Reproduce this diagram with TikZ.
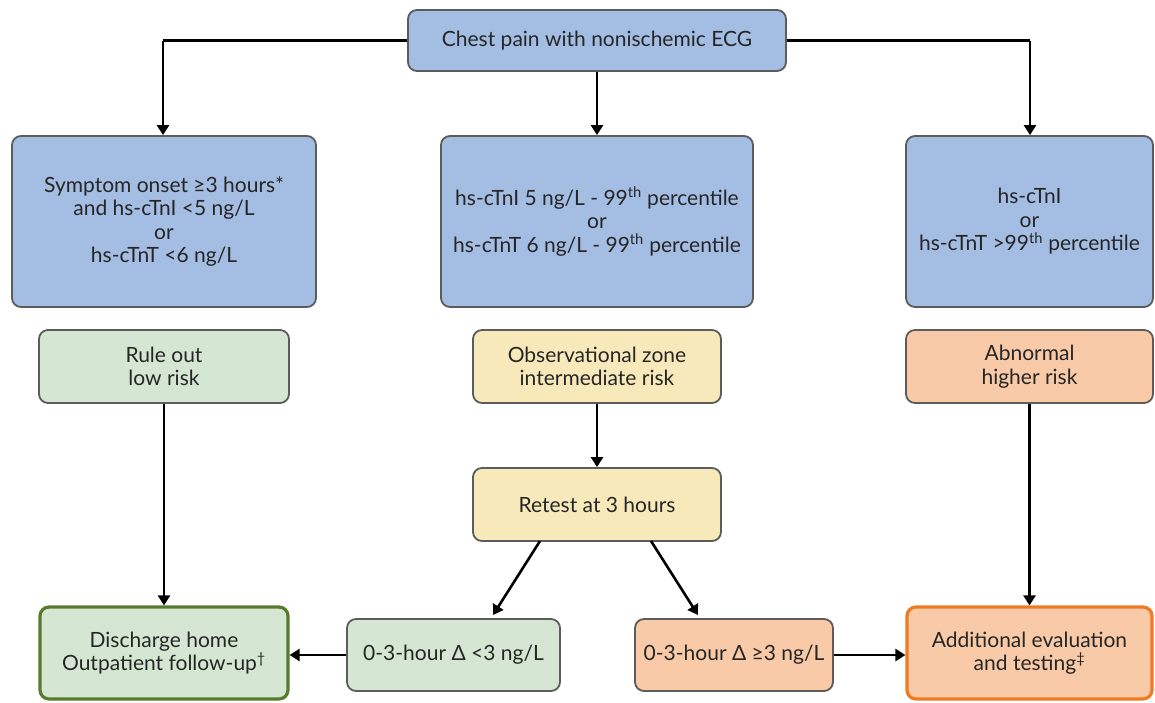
\documentclass[tikz,border=0pt]{standalone}
\usepackage{fontspec}
\setmainfont{Lato}
\usetikzlibrary{arrows.meta}
\definecolor{bluefill}{HTML}{A4BDE3}
\definecolor{greenfill}{HTML}{D5E7D3}
\definecolor{yellowfill}{HTML}{F8E9BA}
\definecolor{orangefill}{HTML}{F8CAA7}
\definecolor{edgegray}{HTML}{5C5C5C}
\definecolor{darkgreen}{HTML}{587A2D}
\definecolor{brightorange}{HTML}{EE7A22}
\definecolor{inkcol}{HTML}{262626}
\tikzset{
  box/.style={draw=edgegray, line width=1.8pt, rounded corners=9pt, align=center,
    inner sep=2pt, text=inkcol, font=\fontsize{21}{23.5}\selectfont},
  bluebox/.style={box, fill=bluefill},
  greenbox/.style={box, fill=greenfill},
  yellowbox/.style={box, fill=yellowfill},
  orangebox/.style={box, fill=orangefill},
  arr/.style={draw=black, line width=2.6pt, -{Triangle[length=10pt,width=12pt]}},
  conn/.style={draw=black, line width=2.6pt}
}
\begin{document}
\begin{tikzpicture}[x=1pt, y=-1pt]
\useasboundingbox (0,0) rectangle (1155,702);
\fill[white] (0,0) rectangle (1155,702);

% top row
\node[bluebox, minimum width=378pt, minimum height=61pt] (top) at (597,40.5) {Chest pain with nonischemic ECG};

% second row: troponin ranges
\node[bluebox, minimum width=304pt, minimum height=171pt] (lo) at (164,221.5)
  {Symptom onset ≥3 hours*\\and hs-cTnI <5 ng/L\\or\\hs-cTnT <6 ng/L};
\node[bluebox, minimum width=312pt, minimum height=171pt] (mid) at (597,221.5)
  {hs-cTnI 5 ng/L - 99\textsuperscript{th} percentile\\or\\hs-cTnT 6 ng/L - 99\textsuperscript{th} percentile};
\node[bluebox, minimum width=247pt, minimum height=171pt] (hi) at (1029.5,221.5)
  {hs-cTnI\\or\\hs-cTnT >99\textsuperscript{th} percentile};

% third row: risk categories
\node[greenbox, minimum width=250pt, minimum height=73pt] (rule) at (164,366.5) {Rule out\\low risk};
\node[yellowbox, minimum width=248pt, minimum height=73pt] (obs) at (597,366.5) {Observational zone\\intermediate risk};
\node[orangebox, minimum width=247pt, minimum height=73pt] (abn) at (1029.5,366.5) {Abnormal\\higher risk};

% retest
\node[yellowbox, minimum width=248pt, minimum height=73pt] (retest) at (597,504.5) {Retest at 3 hours};

% bottom row: outcomes
\node[greenbox, draw=darkgreen, line width=3.2pt, minimum width=248pt, minimum height=92pt] (home) at (164,653)
  {Discharge home\\Outpatient follow-up\textsuperscript{†}};
\node[greenbox, minimum width=213pt, minimum height=72pt] (dlow) at (453.5,655) {0-3-hour Δ <3 ng/L};
\node[orangebox, minimum width=198pt, minimum height=72pt] (dhigh) at (734,655) {0-3-hour Δ ≥3 ng/L};
\node[orangebox, draw=brightorange, line width=3.2pt, minimum width=245pt, minimum height=92pt] (eval) at (1029.5,653)
  {Additional evaluation\\and testing\textsuperscript{‡}};

% connectors from the top box
\coordinate (tl) at (163,40.5);
\coordinate (tr) at (1030,40.5);
\draw[conn] (top.west) -- (tl);
\draw[arr] (tl) -- (tl |- lo.north);
\draw[conn] (top.east) -- (tr);
\draw[arr] (tr) -- (tr |- hi.north);
\draw[arr] (top.south) -- (mid.north);

% vertical flows
\draw[arr] (rule.south) -- (home.north);
\draw[arr] (obs.south) -- (retest.north);
\draw[arr] (abn.south) -- (eval.north);

% retest branches
\coordinate (bl) at (540,541);
\coordinate (br) at (651,541);
\coordinate (el) at (493,615);
\coordinate (er) at (698,615);
\draw[arr] (bl) -- (el);
\draw[arr] (br) -- (er);

% horizontal flows into outcomes
\draw[arr] (dlow.west) -- (dlow.west -| home.east);
\draw[arr] (dhigh.east) -- (dhigh.east -| eval.west);
\end{tikzpicture}
\end{document}
